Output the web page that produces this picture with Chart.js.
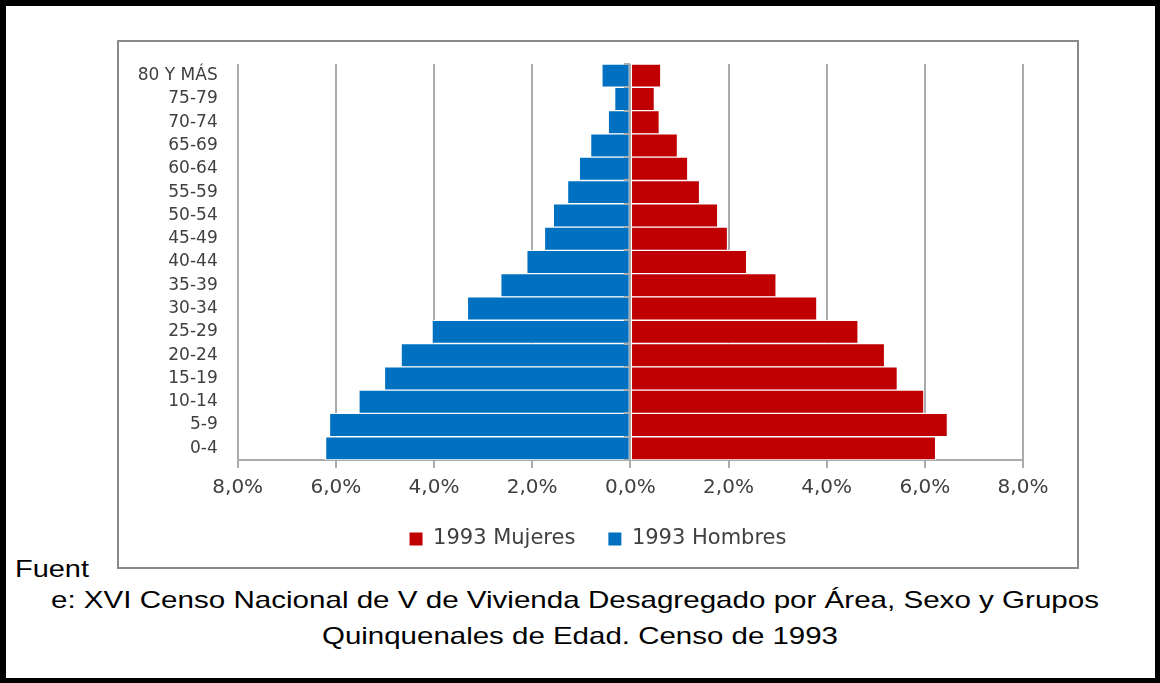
<!DOCTYPE html>
<html>
<head>
<meta charset="utf-8">
<script src="https://cdn.jsdelivr.net/npm/chart.js@4/dist/chart.umd.min.js"></script>
<style>
  html, body { margin: 0; padding: 0; background: #fff; }
  #page { position: relative; width: 1160px; height: 683px; overflow: hidden; }
  #frame { position: absolute; left: 0; top: 0; width: 1160px; height: 683px; box-sizing: border-box;
           border-style: solid; border-color: #000; border-width: 6px 5px 5px 6px; }
  #box { position: absolute; left: 117px; top: 40px; width: 962px; height: 529px; box-sizing: border-box;
         border: 2px solid #8a8a8a; background: #fff; }
  #wrap { position: absolute; left: 0; top: 0; width: 958px; height: 525px; }
  .foot { position: absolute; font-family: "Liberation Sans", Arial, sans-serif; font-size: 24px;
          line-height: 24px; color: #000; white-space: nowrap; transform-origin: 0 0; }
</style>
</head>
<body>
<div id="page">
  <div id="frame"></div>
  <div id="box"><div id="wrap"><canvas id="c"></canvas></div></div>
  <div class="foot" id="f1" data-left="15" data-w="74" style="top:557px;">Fuent</div>
  <div class="foot" id="f2" data-left="51" data-w="1048" style="top:588px;">e: XVI Censo Nacional de V de Vivienda Desagregado por Área, Sexo y Grupos</div>
  <div class="foot" id="f3" data-left="322" data-w="516" style="top:624px;">Quinquenales de Edad. Censo de 1993</div>
</div>
<script>
// ---- data ----
const categories = ['80 Y MÁS','75-79','70-74','65-69','60-64','55-59','50-54','45-49','40-44','35-39','30-34','25-29','20-24','15-19','10-14','5-9','0-4'];
const mujeres1993 = [0.62,0.49,0.59,0.96,1.17,1.41,1.78,1.98,2.37,2.97,3.80,4.64,5.18,5.44,5.98,6.46,6.22];
const hombres1993 = [0.58,0.32,0.45,0.81,1.04,1.28,1.57,1.75,2.11,2.64,3.32,4.04,4.67,5.01,5.53,6.13,6.21];
const xTicks = [-8,-6,-4,-2,0,2,4,6,8];
const xTickLabels = ['8,0%','6,0%','4,0%','2,0%','0,0%','2,0%','4,0%','6,0%','8,0%'];
const seriesNames = ['1993 Mujeres','1993 Hombres'];

// footer text scaling (horizontal stretch of source image)
document.querySelectorAll('.foot').forEach(el => {
  const w = el.getBoundingClientRect().width;
  const target = parseFloat(el.dataset.w);
  el.style.left = el.dataset.left + 'px';
  el.style.transform = 'scaleX(' + (target / w) + ')';
});

const GRID = '#ababab';
const TEXT = '#404040';
Chart.defaults.font.family = "'DejaVu Sans', sans-serif";
Chart.defaults.color = TEXT;

const zeroAxis = {
  id: 'zeroAxis',
  afterDatasetsDraw(chart) {
    const xs = chart.scales.x, ys = chart.scales.y, ctx = chart.ctx;
    const x0 = Math.round(xs.getPixelForValue(0));
    ctx.save();
    ctx.strokeStyle = GRID;
    ctx.lineWidth = 2;
    ctx.beginPath();
    ctx.moveTo(x0, chart.chartArea.top);
    ctx.lineTo(x0, chart.chartArea.bottom);
    const n = categories.length;
    for (let i = 0; i <= n; i++) {
      const y = Math.round(ys.getPixelForValue(i - 0.5));
      ctx.moveTo(x0 - 6, y);
      ctx.lineTo(x0, y);
    }
    ctx.stroke();
    ctx.restore();
  }
};

const noPad = s => { s.paddingTop = 0; s.paddingBottom = 0; };

new Chart(document.getElementById('c'), {
  type: 'bar',
  data: {
    labels: categories,
    datasets: [
      { label: seriesNames[0], data: mujeres1993, backgroundColor: '#C00000', borderColor: '#ffffff',
        borderWidth: 1, borderSkipped: false, barPercentage: 1, categoryPercentage: 1 },
      { label: seriesNames[1], data: hombres1993.map(v => -v), backgroundColor: '#0070C0', borderColor: '#ffffff',
        borderWidth: 1, borderSkipped: false, barPercentage: 1, categoryPercentage: 1 }
    ]
  },
  options: {
    indexAxis: 'y',
    responsive: true,
    maintainAspectRatio: false,
    animation: false,
    events: [],
    layout: { padding: { top: 22, left: 0, right: 0, bottom: 7.5 } },
    scales: {
      x: {
        stacked: true,
        min: -8, max: 8,
        afterBuildTicks: s => { s.ticks = xTicks.map(v => ({ value: v })); },
        afterFit: s => { s.height = 35.5; },
        ticks: {
          padding: 8,
          font: { size: 20 },
          color: TEXT,
          callback: (v, i) => xTickLabels[i]
        },
        grid: { color: GRID, lineWidth: 2, tickLength: 8, tickColor: GRID, drawTicks: true },
        border: { display: true, color: GRID, width: 2 }
      },
      y: {
        stacked: true,
        afterFit: s => { s.width = 118.7; noPad(s); },
        grid: { display: false, drawTicks: false },
        border: { display: false },
        ticks: { padding: 20, font: { size: 17 }, color: TEXT, autoSkip: false }
      },
      y2: {
        type: 'category',
        position: 'right',
        display: true,
        afterFit: s => { s.width = 54; noPad(s); },
        grid: { display: false, drawTicks: false },
        border: { display: false },
        ticks: { display: false }
      }
    },
    plugins: {
      tooltip: { enabled: false },
      legend: {
        position: 'bottom',
        labels: {
          boxWidth: 13, boxHeight: 13, padding: 33,
          font: { size: 21 }, color: TEXT,
          generateLabels: chart => {
            const items = Chart.defaults.plugins.legend.labels.generateLabels(chart);
            items.forEach(it => { it.strokeStyle = it.fillStyle; it.lineWidth = 0; });
            return items;
          }
        }
      }
    }
  },
  plugins: [zeroAxis]
});
</script>
</body>
</html>
